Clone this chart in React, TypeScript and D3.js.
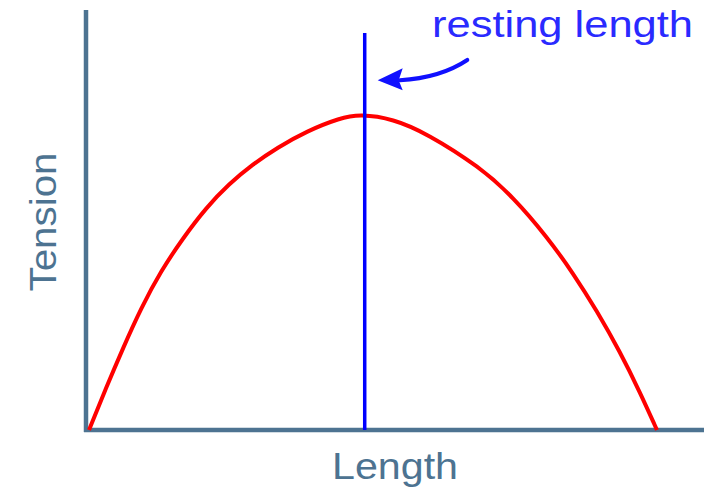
import React from "react";
import * as d3 from "d3";

const lengthValues = [
  0.49, 3.24, 5.99, 8.9, 12.14, 15.7, 19.42, 23.14, 27.02, 30.91, 35.76, 41.1, 44.34,
  49.68, 55.18, 63.75, 69.09, 74.6, 78.8, 82.69, 86.41, 89.64, 92.39,
];
const tensionValues = [
  0, 10.0, 19.5, 29.0, 37.9, 45.7, 52.9, 58.6, 63.3, 67.2, 71.2, 74.3, 75.2,
  74.1, 70.6, 62.6, 55.5, 46.0, 37.4, 28.3, 18.6, 9.0, 0,
];
const restingLength = 45.1;
const restingTop = 94.5;
const arrowPath = [
  [61.7, 88.1],
  [57.3, 83.8],
  [50.8, 83.3],
];
const arrowTip = [47.2, 83.3];
const labels = { x: "Length", y: "Tension", note: "resting length" };

const W = 704;
const H = 489;
const AXIS = "#4d7391";

export default function App() {
  const x = d3.scaleLinear().domain([0, 100]).range([86, 704]);
  const y = d3.scaleLinear().domain([0, 100]).range([430, 10]);

  const pts = lengthValues.map((v, i) => [v, tensionValues[i]] as [number, number]);
  const line = d3
    .line<[number, number]>()
    .x((d) => x(d[0]))
    .y((d) => y(d[1]))
    .curve(d3.curveBasis);

  const [a0, a1, a2] = arrowPath;
  const arrowD = `M${x(a0[0])},${y(a0[1])} Q${x(a1[0])},${y(a1[1])} ${x(a2[0])},${y(a2[1])}`;
  const tipX = x(arrowTip[0]);
  const tipY = y(arrowTip[1]);
  const headD = `M${tipX},${tipY} L${tipX + 25},${tipY - 12} L${tipX + 21},${tipY} L${tipX + 25},${tipY + 10} Z`;

  return (
    <svg
      width={W}
      height={H}
      style={{ position: "absolute", left: 0, top: 0, background: "#fff" }}
      fontFamily="'Liberation Sans', Arial, sans-serif"
    >
      <rect width={W} height={H} fill="#fff" />
      <line x1={x(0)} x2={x(0)} y1={y(100)} y2={y(0) + 2} stroke={AXIS} strokeWidth={4.5} />
      <line x1={x(0) - 2} x2={x(100)} y1={y(0)} y2={y(0)} stroke={AXIS} strokeWidth={4.5} />
      <path d={line(pts) || ""} fill="none" stroke="#ff0000" strokeWidth={4} />
      <line
        x1={x(restingLength)}
        x2={x(restingLength)}
        y1={y(restingTop)}
        y2={y(0)}
        stroke="#0000ff"
        strokeWidth={3.5}
      />
      <path d={arrowD} fill="none" stroke="#1010ff" strokeWidth={4} strokeLinecap="round" />
      <path d={headD} fill="#1010ff" />
      <text
        x={432}
        y={37}
        fontSize={36}
        fill="#2a2aff"
        textLength={261}
        lengthAdjust="spacingAndGlyphs"
      >
        {labels.note}
      </text>
      <text
        x={332}
        y={479}
        fontSize={36}
        fill={AXIS}
        textLength={126}
        lengthAdjust="spacingAndGlyphs"
      >
        {labels.x}
      </text>
      <text
        transform={`translate(56,${222 + 69.5}) rotate(-90)`}
        x={0}
        y={0}
        fontSize={37}
        fill={AXIS}
        textLength={139}
        lengthAdjust="spacingAndGlyphs"
      >
        {labels.y}
      </text>
    </svg>
  );
}
